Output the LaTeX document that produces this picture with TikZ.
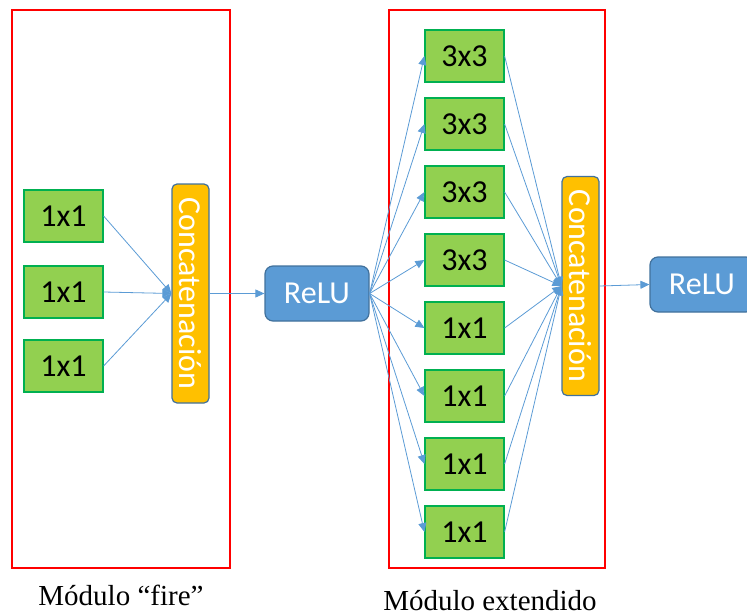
\documentclass[tikz,border=0pt]{standalone}
\usepackage{fontspec}
\setmainfont{Liberation Serif}
\newfontfamily\calibri{Carlito}
\usetikzlibrary{arrows.meta}
\definecolor{convgreen}{HTML}{92D050}
\definecolor{convedge}{HTML}{00B050}
\definecolor{concatorange}{HTML}{FFC000}
\definecolor{relublue}{HTML}{5B9BD5}
\definecolor{reluedge}{HTML}{41719C}
\definecolor{framered}{HTML}{FF0000}

\begin{document}
\begin{tikzpicture}[x=1pt,y=-1pt,every node/.style={font=\calibri\fontsize{32}{36}\selectfont,inner sep=0pt},
conv/.style={draw=convedge,line width=1.2pt,fill=convgreen,minimum width=79pt,minimum height=52pt},
concat/.style={draw=reluedge,line width=1.2pt,fill=concatorange,rounded corners=5pt,text=white,rotate=-90,minimum width=219pt,minimum height=37pt},
relu/.style={draw=reluedge,line width=1.2pt,fill=relublue,rounded corners=8pt,text=white,minimum width=104pt,minimum height=55pt},
link/.style={draw=relublue,line width=.8pt,-{Triangle[length=9pt,width=8pt]}},
frame/.style={draw=framered,line width=1.5pt},
caption/.style={font=\rmfamily\fontsize{29}{34}\selectfont,anchor=base}]
\useasboundingbox (0,0) rectangle (747,615);
\draw[frame] (12,10) rectangle (230,568);\draw[frame] (389,10) rectangle (605,568);
\node[conv] (f1) at (63.5,216) {1x1};\node[conv] (f2) at (63.5,292) {1x1};\node[conv] (f3) at (63.5,366) {1x1};
\node[concat] (cl) at (190.5,293.5) {Concatenación};
\node[relu] (r1) at (317,293.5) {ReLU};
\foreach \i/\t in {1/3x3,2/3x3,3/3x3,4/3x3,5/1x1,6/1x1,7/1x1,8/1x1}{\node[conv] (e\i) at (464.5,{56+68*(\i-1)}) {\t};}
\node[concat] (cr) at (580.5,286) {Concatenación};
\node[relu] (r2) at (702,284.5) {ReLU};
\foreach \a in {f1,f2,f3}{\draw[link] (\a.east)--(cl.south);}
\draw[link] (cl.north)--(r1.west);
\foreach \i in {1,...,8}{\draw[link] (r1.east)--(e\i.west);\draw[link] (e\i.east)--(cr.south);}
\draw[link] (cr.north)--(r2.west);
\node[caption] (capf) at (121,605) {Módulo “fire”};
\node[caption] (cape) at (490,610) {Módulo extendido};
\end{tikzpicture}
\end{document}
